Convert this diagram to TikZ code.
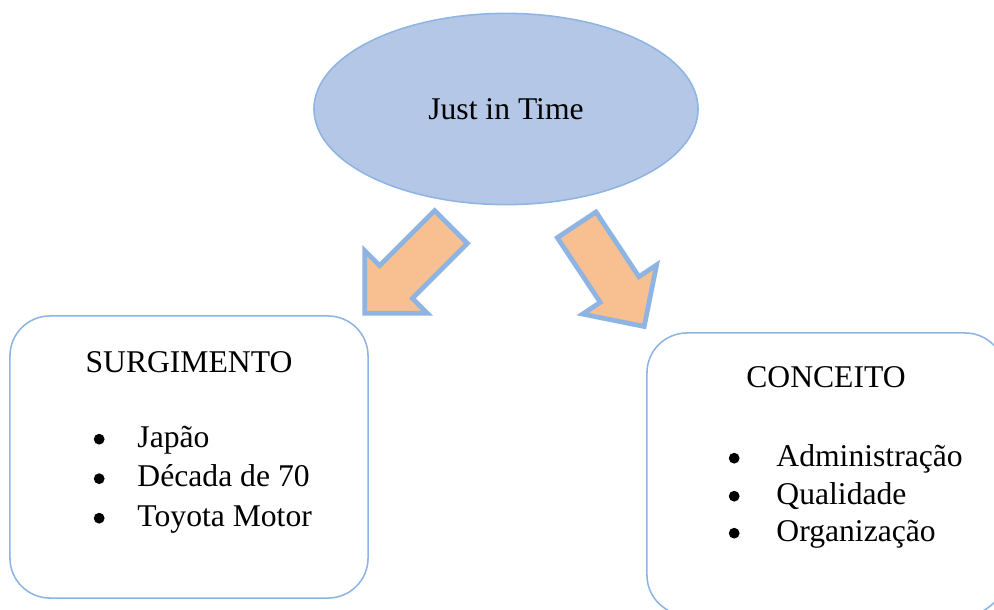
\documentclass[tikz,border=0pt]{standalone}
\usepackage{fontspec}
\setmainfont{Liberation Serif}
\usetikzlibrary{shapes.geometric,shapes.arrows}

\definecolor{jitfill}{HTML}{B4C7E7}
\definecolor{jitline}{HTML}{8EB4E3}
\definecolor{jitorange}{HTML}{F8C090}

\tikzset{
  core/.style={ellipse,draw=jitline,line width=1.1pt,fill=jitfill,
    minimum width=9.6cm,minimum height=4.78cm,inner sep=0pt},
  topic/.style={draw=jitline,line width=1.1pt,rounded corners=1cm,
    minimum width=8.95cm,minimum height=7.05cm},
  flow/.style={single arrow,draw=jitline,line width=3.4pt,fill=jitorange,
    minimum height=3.05cm,inner xsep=0pt,inner ysep=0.52cm,
    single arrow head extend=0.53cm,single arrow tip angle=90},
  item/.style={anchor=base west,inner sep=0pt},
  head/.style={anchor=base,inner sep=0pt},
  dot/.style={circle,fill=black,inner sep=0pt,minimum size=0.27cm}
}

\begin{document}
\begin{tikzpicture}[x=0.025cm,y=-0.025cm,font=\fontsize{22.5}{27}\selectfont]
\useasboundingbox (0,0) rectangle (994,610);
\clip (0,0) rectangle (994,610);

\node [core] (jit) at (506,109) {Just in Time};

\node [topic] (surg) at (189,457) {};
\node [topic] (conc) at (826,474) {};

\node [flow,rotate=225] (toleft) at (416,262) {};
\node [flow,rotate=303.6] (toright) at (604,266) {};

% left box
\path (surg.north) +(0,57) node [head] {SURGIMENTO};
\path (surg.north west)
    +(90,124) node [dot] {}
    +(128,132) node [item] (japao) {Japão}
    +(90,163.5) node [dot] {}
    +(128,171.5) node [item] (decada) {Década de 70}
    +(90,203) node [dot] {}
    +(128,211) node [item] (toyota) {Toyota Motor};

% right box
\path (conc.north) +(0,55) node [head] {CONCEITO};
\path (conc.north west)
    +(88,126) node [dot] {}
    +(130,134) node [item] (adm) {Administração}
    +(88,164) node [dot] {}
    +(130,172) node [item] (qual) {Qualidade}
    +(88,201) node [dot] {}
    +(130,209) node [item] (org) {Organização};
\end{tikzpicture}
\end{document}
